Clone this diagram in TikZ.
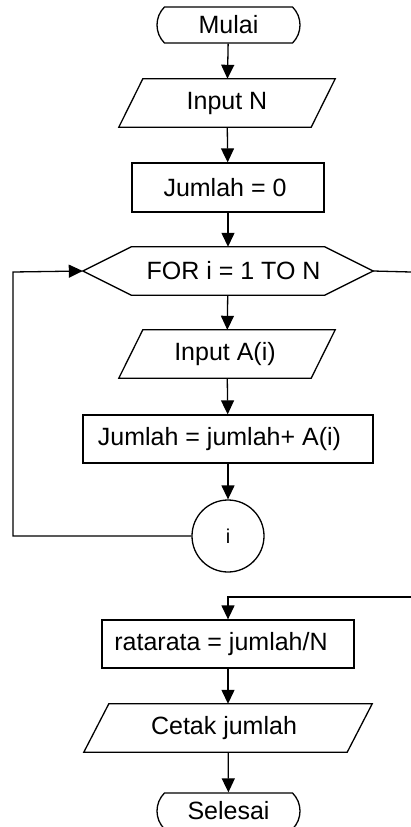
\documentclass[tikz,border=0pt]{standalone}
\usepackage{fontspec}
\setmainfont{Liberation Sans}
\usetikzlibrary{shapes.misc,arrows.meta}
\begin{document}
\begin{tikzpicture}[x=1pt,y=-1pt,
  lw/.style={line width=1.3pt},
  every node/.style={inner sep=0pt,font=\fontsize{25}{30}\selectfont},
  term/.style={lw,draw,rounded rectangle,rounded rectangle arc length=90,minimum width=143pt,minimum height=36pt},
  proc/.style={lw,draw,rectangle,minimum height=48pt},
  iobox/.style={rectangle,minimum height=48pt},
  conn/.style={lw,draw,circle,minimum size=72pt,font=\fontsize{20}{24}\selectfont},
  flow/.style={lw,-{Triangle[length=14pt,width=13pt]}},
  line/.style={lw}]
\useasboundingbox (0,0) rectangle (411,827);
% nodes
\node[term] (mulai) at (228.5,25) {Mulai};
\node[iobox,minimum width=192pt] (inN) at (227,103) {Input N};
\node[proc,minimum width=192pt,minimum height=49pt] (j0) at (228,187.5) {Jumlah = 0\hspace*{6pt}};
\node[iobox,minimum width=193pt] (hex) at (228,271) {\hspace*{11pt}FOR i = 1 TO N};
\node[iobox,minimum width=192pt] (inA) at (227,354) {Input A(i)\hspace*{4pt}};
\node[proc,minimum width=290pt] (jj) at (228,439) {Jumlah = jumlah+ A(i)\hspace*{17pt}};
\node[conn] (ci) at (228,536) {i};
\node[proc,minimum width=252pt] (rr) at (228,644) {ratarata = jumlah/N\hspace*{14pt}};
\node[iobox,minimum width=263pt] (cetak) at (228,728) {Cetak jumlah\hspace*{8pt}};
\node[term] (selesai) at (228.5,811) {Selesai};
% outlines of parallelograms and hexagon
\draw[lw] ([xshift=12pt]inN.north west) -- ([xshift=12pt]inN.north east)
  -- ([xshift=-12pt]inN.south east) -- ([xshift=-12pt]inN.south west) -- cycle;
\draw[lw] ([xshift=12pt]inA.north west) -- ([xshift=12pt]inA.north east)
  -- ([xshift=-12pt]inA.south east) -- ([xshift=-12pt]inA.south west) -- cycle;
\draw[lw] ([xshift=12.5pt]cetak.north west) -- ([xshift=12.5pt]cetak.north east)
  -- ([xshift=-12.5pt]cetak.south east) -- ([xshift=-12.5pt]cetak.south west) -- cycle;
\coordinate (hexL) at ([xshift=-48.5pt]hex.west);
\coordinate (hexR) at ([xshift=48.5pt]hex.east);
\draw[lw] (hex.north west) -- (hex.north east) -- (hexR) -- (hex.south east)
  -- (hex.south west) -- (hexL) -- cycle;
% connectors
\draw[flow] (mulai) -- (inN);
\draw[flow] (inN) -- (j0);
\draw[flow] (j0) -- (hex);
\draw[flow] (hex) -- (inA);
\draw[flow] (inA) -- (jj);
\draw[flow] (jj) -- (ci);
\coordinate (loopBL) at (13,536);
\coordinate (loopTL) at (13,272);
\draw[flow] (ci.west) -- (loopBL) -- (loopTL) -- (hexL);
\coordinate (exitR) at (411,272);
\draw[line] (hexR) -- (exitR);
\coordinate (entR) at (411,597);
\coordinate (entC) at (228,597);
\draw[flow] (entR) -- (entC) -- (rr.north);
\draw[flow] (rr) -- (cetak);
\draw[flow] (cetak) -- (selesai);
\end{tikzpicture}
\end{document}
